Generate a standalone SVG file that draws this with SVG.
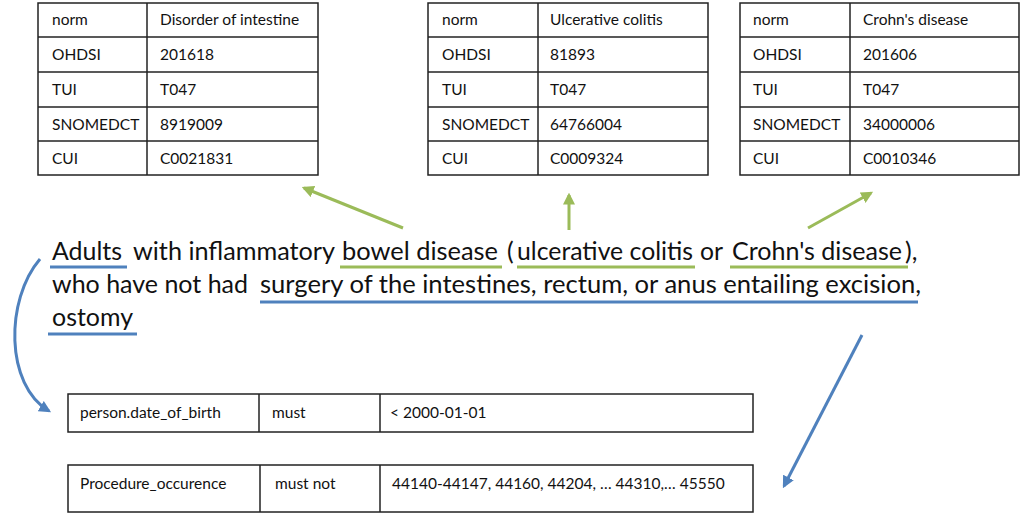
<svg xmlns="http://www.w3.org/2000/svg" width="1021" height="514" viewBox="0 0 1021 514">
<style>
.cell{fill:#fff;stroke:#222;stroke-width:1.5}
.ln{stroke:#222;stroke-width:1.5}
.t{font-family:Lato,"Liberation Sans",sans-serif;font-size:15.5px;fill:#111}
.m{font-family:Lato,"Liberation Sans",sans-serif;font-size:25px;fill:#111}
.g{stroke:#9BBB59;stroke-width:3;fill:none}
.b{stroke:#4F81BD;stroke-width:3;fill:none}
</style>
<defs>
<marker id="ag" viewBox="0 0 10 10" refX="8" refY="5" markerWidth="4" markerHeight="4" orient="auto"><path d="M0,0 L10,5 L0,10 z" fill="#9BBB59"/></marker>
<marker id="ab" viewBox="0 0 10 10" refX="8" refY="5" markerWidth="4" markerHeight="4" orient="auto"><path d="M0,0 L10,5 L0,10 z" fill="#4F81BD"/></marker>
</defs>
<rect width="1021" height="514" fill="#fff"/>

<g id="table-disorder">
<rect class="cell" x="38" y="3" width="280" height="172"/>
<line class="ln" x1="147" y1="3" x2="147" y2="175"/>
<line class="ln" x1="38" y1="37" x2="318" y2="37"/>
<line class="ln" x1="38" y1="72" x2="318" y2="72"/>
<line class="ln" x1="38" y1="107" x2="318" y2="107"/>
<line class="ln" x1="38" y1="141" x2="318" y2="141"/>
<text class="t" x="52" y="25">norm</text><text class="t" x="160" y="25">Disorder of intestine</text>
<text class="t" x="52" y="60">OHDSI</text><text class="t" x="160" y="60">201618</text>
<text class="t" x="52" y="95">TUI</text><text class="t" x="160" y="95">T047</text>
<text class="t" x="52" y="130">SNOMEDCT</text><text class="t" x="160" y="130">8919009</text>
<text class="t" x="52" y="164">CUI</text><text class="t" x="160" y="164">C0021831</text>
</g>

<g id="table-uc">
<rect class="cell" x="428" y="3" width="280" height="172"/>
<line class="ln" x1="538" y1="3" x2="538" y2="175"/>
<line class="ln" x1="428" y1="37" x2="708" y2="37"/>
<line class="ln" x1="428" y1="72" x2="708" y2="72"/>
<line class="ln" x1="428" y1="107" x2="708" y2="107"/>
<line class="ln" x1="428" y1="141" x2="708" y2="141"/>
<text class="t" x="442" y="25">norm</text><text class="t" x="550" y="25">Ulcerative colitis</text>
<text class="t" x="442" y="60">OHDSI</text><text class="t" x="550" y="60">81893</text>
<text class="t" x="442" y="95">TUI</text><text class="t" x="550" y="95">T047</text>
<text class="t" x="442" y="130">SNOMEDCT</text><text class="t" x="550" y="130">64766004</text>
<text class="t" x="442" y="164">CUI</text><text class="t" x="550" y="164">C0009324</text>
</g>

<g id="table-crohn">
<rect class="cell" x="740" y="3" width="279" height="172"/>
<line class="ln" x1="850" y1="3" x2="850" y2="175"/>
<line class="ln" x1="740" y1="37" x2="1019" y2="37"/>
<line class="ln" x1="740" y1="72" x2="1019" y2="72"/>
<line class="ln" x1="740" y1="107" x2="1019" y2="107"/>
<line class="ln" x1="740" y1="141" x2="1019" y2="141"/>
<text class="t" x="753" y="25">norm</text><text class="t" x="863" y="25">Crohn's disease</text>
<text class="t" x="753" y="60">OHDSI</text><text class="t" x="863" y="60">201606</text>
<text class="t" x="753" y="95">TUI</text><text class="t" x="863" y="95">T047</text>
<text class="t" x="753" y="130">SNOMEDCT</text><text class="t" x="863" y="130">34000006</text>
<text class="t" x="753" y="164">CUI</text><text class="t" x="863" y="164">C0010346</text>
</g>

<g id="sentence">
<text class="m" x="52" y="260" textLength="70" lengthAdjust="spacingAndGlyphs">Adults</text>
<text class="m" x="133" y="260" textLength="202" lengthAdjust="spacingAndGlyphs">with inflammatory</text>
<text class="m" x="342" y="260" textLength="156" lengthAdjust="spacingAndGlyphs">bowel disease</text>
<text class="m" x="507" y="260">(</text>
<text class="m" x="517" y="260" textLength="176" lengthAdjust="spacingAndGlyphs">ulcerative colitis</text>
<text class="m" x="700" y="260" textLength="23" lengthAdjust="spacingAndGlyphs">or</text>
<text class="m" x="732" y="260" textLength="170" lengthAdjust="spacingAndGlyphs">Crohn's disease</text>
<text class="m" x="905" y="260">),</text>
<text class="m" x="52" y="293" textLength="196" lengthAdjust="spacingAndGlyphs">who have not had</text>
<text class="m" x="260" y="293" textLength="661" lengthAdjust="spacingAndGlyphs">surgery of the intestines, rectum, or anus entailing excision,</text>
<text class="m" x="52" y="326" textLength="81" lengthAdjust="spacingAndGlyphs">ostomy</text>
<line class="b" x1="50" y1="267" x2="127" y2="267"/>
<line class="g" x1="340" y1="267" x2="502" y2="267"/>
<line class="g" x1="517" y1="267" x2="695" y2="267"/>
<line class="g" x1="730" y1="267" x2="908" y2="267"/>
<line class="b" x1="260" y1="302" x2="918" y2="302"/>
<line class="b" x1="48" y1="334" x2="137" y2="334"/>
</g>

<g id="row-birth">
<rect class="cell" x="68" y="394" width="685" height="38"/>
<line class="ln" x1="259" y1="394" x2="259" y2="432"/>
<line class="ln" x1="380" y1="394" x2="380" y2="432"/>
<text class="t" x="80" y="418">person.date_of_birth</text>
<text class="t" x="272" y="418">must</text>
<text class="t" x="390" y="418">&lt; 2000-01-01</text>
</g>

<g id="row-procedure">
<rect class="cell" x="68" y="465" width="685" height="47"/>
<line class="ln" x1="260" y1="465" x2="260" y2="512"/>
<line class="ln" x1="380" y1="465" x2="380" y2="512"/>
<text class="t" x="80" y="489">Procedure_occurence</text>
<text class="t" x="275" y="489">must not</text>
<text class="t" x="392" y="489">44140-44147, 44160, 44204, … 44310,… 45550</text>
</g>

<g id="connectors">
<line class="g" x1="403" y1="228" x2="304" y2="188" marker-end="url(#ag)"/>
<line class="g" x1="569" y1="230" x2="569" y2="195" marker-end="url(#ag)"/>
<line class="g" x1="808" y1="228" x2="871" y2="193" marker-end="url(#ag)"/>
<path class="b" d="M40,259 C5,300 5,385 49,411" marker-end="url(#ab)"/>
<line class="b" x1="862" y1="335" x2="784" y2="486" marker-end="url(#ab)"/>
</g>
</svg>
